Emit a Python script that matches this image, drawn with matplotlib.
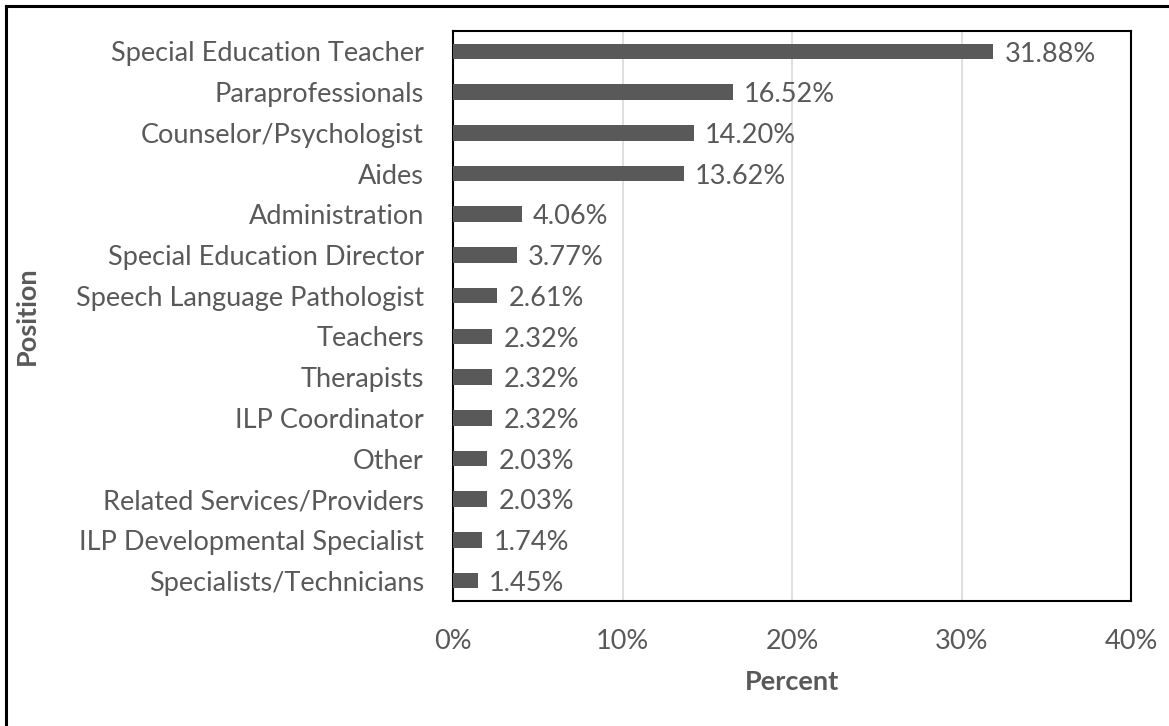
import matplotlib
matplotlib.use("Agg")
import matplotlib.pyplot as plt
from matplotlib.lines import Line2D

positions = [
    "Special Education Teacher",
    "Paraprofessionals",
    "Counselor/Psychologist",
    "Aides",
    "Administration",
    "Special Education Director",
    "Speech Language Pathologist",
    "Teachers",
    "Therapists",
    "ILP Coordinator",
    "Other",
    "Related Services/Providers",
    "ILP Developmental Specialist",
    "Specialists/Technicians",
]
percents = [31.88, 16.52, 14.20, 13.62, 4.06, 3.77, 2.61, 2.32, 2.32, 2.32, 2.03, 2.03, 1.74, 1.45]
xticks = [0, 10, 20, 30, 40]
xtick_labels = ["0%", "10%", "20%", "30%", "40%"]

plt.rcParams['font.family'] = ['Lato', 'DejaVu Sans']
TXT = "#595959"
FS = 19.5

fig = plt.figure(figsize=(11.69, 7.26), dpi=100)
ax = fig.add_axes([453/1169, 1 - 601/726, (1131-453)/1169, (601-31)/726])

ypos = list(range(len(positions)))
ax.barh(ypos, percents, height=0.38, color="#595959", zorder=3)
ax.set_ylim(len(positions) - 0.5, -0.5)
ax.set_xlim(0, 40)
ax.set_yticks(ypos)
ax.set_yticklabels(positions, fontsize=FS, color=TXT)
ax.set_xticks(xticks)
ax.set_xticklabels(xtick_labels, fontsize=FS, color=TXT)
ax.tick_params(axis='both', length=0)
ax.tick_params(axis='y', pad=21)
ax.tick_params(axis='x', pad=20)
ax.grid(axis='x', color="#d9d9d9", linewidth=1.2, zorder=0)

for y, v in zip(ypos, percents):
    ax.annotate(f"{v:.2f}%", xy=(v, y), xytext=(8, -2), textcoords="offset points",
                va="center", ha="left", fontsize=FS, color=TXT)

for s in ax.spines.values():
    s.set_color("black")
    s.set_linewidth(1.5)

ax.set_xlabel("Percent", fontsize=FS, fontweight="bold", color=TXT, labelpad=12)
fig.text(27/1169, 1 - 316/726, "Position", rotation=90, fontsize=FS, fontweight="bold",
         color=TXT, ha="center", va="center")

# outer frame (top and left edges)
fig.add_artist(Line2D([6/1169, 6/1169], [0, 1 - 6/726], transform=fig.transFigure,
                      color="black", linewidth=2.2))
fig.add_artist(Line2D([6/1169, 1], [1 - 6/726, 1 - 6/726], transform=fig.transFigure,
                      color="black", linewidth=2.2))

fig.savefig("out.png", dpi=100)
